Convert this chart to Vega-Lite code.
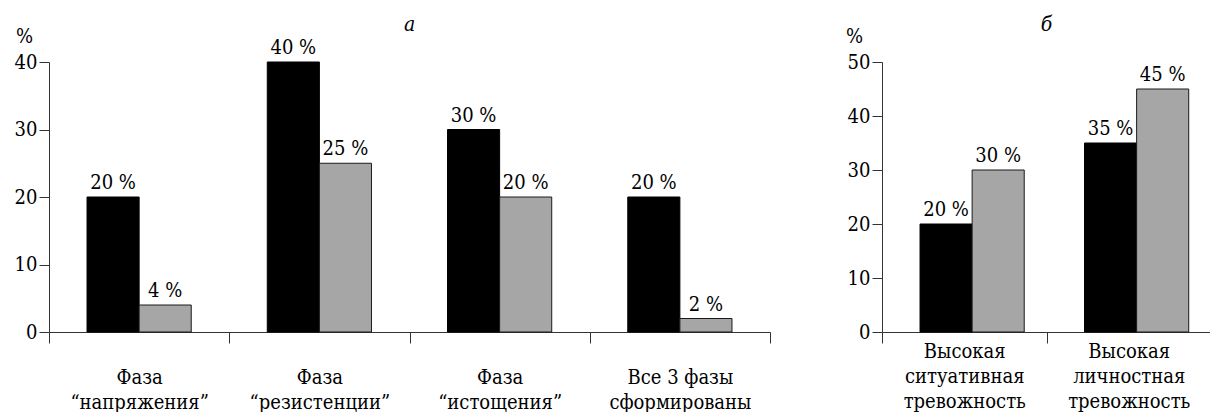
{
  "$schema": "https://vega.github.io/schema/vega-lite/v6.json",
  "background": "white",
  "padding": {"left": 14, "top": 14, "right": 0, "bottom": 0},
  "spacing": 74,
  "hconcat": [
    {
      "width": 721,
      "height": 270,
      "title": {"text": "а"},
      "data": {
        "values": [
          {"cat": "Фаза|“напряжения”", "grp": "1", "v": 20},
          {"cat": "Фаза|“напряжения”", "grp": "2", "v": 4},
          {"cat": "Фаза|“резистенции”", "grp": "1", "v": 40},
          {"cat": "Фаза|“резистенции”", "grp": "2", "v": 25},
          {"cat": "Фаза|“истощения”", "grp": "1", "v": 30},
          {"cat": "Фаза|“истощения”", "grp": "2", "v": 20},
          {"cat": "Все 3 фазы|сформированы", "grp": "1", "v": 20},
          {"cat": "Все 3 фазы|сформированы", "grp": "2", "v": 2}
        ]
      },
      "transform": [{"calculate": "datum.v + ' %'", "as": "lbl"}],
      "encoding": {
        "x": {
          "field": "cat", "type": "nominal", "sort": null,
          "scale": {"paddingInner": 0, "paddingOuter": 0},
          "axis": {"title": null, "labelExpr": "split(datum.label, '|')", "labelPadding": 24}
        },
        "xOffset": {
          "field": "grp", "type": "nominal",
          "scale": {"paddingInner": 0, "paddingOuter": 0.73}
        },
        "y": {
          "field": "v", "type": "quantitative",
          "scale": {"domain": [0, 40]},
          "axis": {"values": [0, 10, 20, 30, 40], "title": "%", "titleX": -25, "titleY": -20}
        }
      },
      "layer": [
        {
          "mark": {"type": "bar", "strokeWidth": 1},
          "encoding": {
            "color": {"field": "grp", "type": "nominal", "legend": null,
              "scale": {"domain": ["1", "2"], "range": ["#000000", "#a6a6a6"]}},
            "stroke": {"field": "grp", "type": "nominal", "legend": null,
              "scale": {"domain": ["1", "2"], "range": ["#000000", "#1a1a1a"]}}
          }
        },
        {
          "mark": {"type": "text", "baseline": "alphabetic", "dy": -8, "fontSize": 20},
          "encoding": {"text": {"field": "lbl"}}
        }
      ]
    },
    {
      "width": 329,
      "height": 270,
      "title": {"text": "б"},
      "data": {
        "values": [
          {"cat": "Высокая|ситуативная|тревожность", "grp": "1", "v": 20},
          {"cat": "Высокая|ситуативная|тревожность", "grp": "2", "v": 30},
          {"cat": "Высокая|личностная|тревожность", "grp": "1", "v": 35},
          {"cat": "Высокая|личностная|тревожность", "grp": "2", "v": 45}
        ]
      },
      "transform": [{"calculate": "datum.v + ' %'", "as": "lbl"}],
      "encoding": {
        "x": {
          "field": "cat", "type": "nominal", "sort": null,
          "scale": {"paddingInner": 0, "paddingOuter": 0},
          "axis": {"title": null, "labelExpr": "split(datum.label, '|')", "labelPadding": -2}
        },
        "xOffset": {
          "field": "grp", "type": "nominal",
          "scale": {"paddingInner": 0, "paddingOuter": 0.75}
        },
        "y": {
          "field": "v", "type": "quantitative",
          "scale": {"domain": [0, 50]},
          "axis": {"values": [0, 10, 20, 30, 40, 50], "title": "%", "titleX": -28, "titleY": -20}
        }
      },
      "layer": [
        {
          "mark": {"type": "bar", "strokeWidth": 1},
          "encoding": {
            "color": {"field": "grp", "type": "nominal", "legend": null,
              "scale": {"domain": ["1", "2"], "range": ["#000000", "#a6a6a6"]}},
            "stroke": {"field": "grp", "type": "nominal", "legend": null,
              "scale": {"domain": ["1", "2"], "range": ["#000000", "#1a1a1a"]}}
          }
        },
        {
          "mark": {"type": "text", "baseline": "alphabetic", "dy": -8, "fontSize": 20},
          "encoding": {"text": {"field": "lbl"}}
        }
      ]
    }
  ],
  "config": {
    "font": "DejaVu Serif Condensed, DejaVu Serif",
    "view": {"stroke": null},
    "text": {"font": "DejaVu Serif Condensed, DejaVu Serif"},
    "title": {"font": "DejaVu Serif Condensed, DejaVu Serif", "fontSize": 21, "fontStyle": "italic", "fontWeight": "normal", "color": "black", "offset": -9},
    "axis": {
      "grid": false,
      "domainColor": "#333333",
      "tickColor": "#333333",
      "labelFont": "DejaVu Serif Condensed, DejaVu Serif",
      "labelFontSize": 20,
      "labelColor": "black",
      "titleFont": "DejaVu Serif Condensed, DejaVu Serif",
      "titleFontSize": 20,
      "titleFontWeight": "normal",
      "titleColor": "black"
    },
    "axisX": {"labelAngle": 0, "tickSize": 11, "tickBand": "extent", "labelLineHeight": 25},
    "axisY": {"tickSize": 10, "labelPadding": 2, "titleAngle": 0, "titleAlign": "center", "titleBaseline": "alphabetic"}
  }
}
